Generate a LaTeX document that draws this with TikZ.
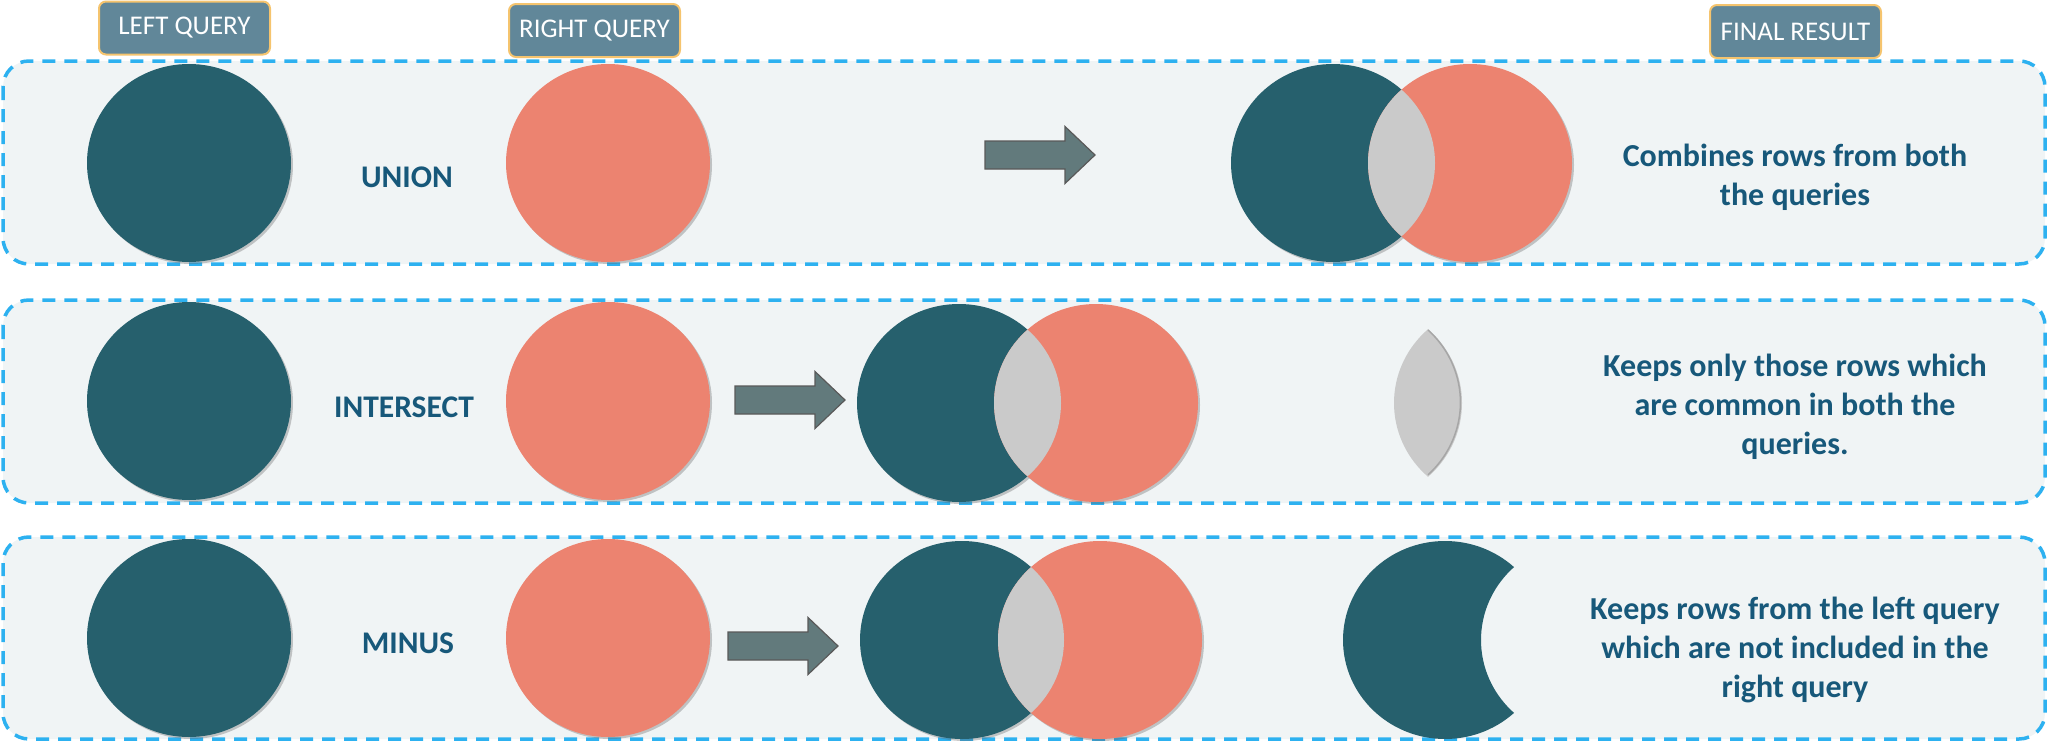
\documentclass[tikz,border=0pt]{standalone}
\usepackage{fontspec}
\setmainfont{Carlito}
\usetikzlibrary{shadows}

\definecolor{setdark}{RGB}{38,96,109}
\definecolor{setsalmon}{RGB}{236,131,112}
\definecolor{setgray}{RGB}{202,202,202}
\definecolor{panelbg}{RGB}{240,244,245}
\definecolor{panelline}{RGB}{45,177,240}
\definecolor{optext}{RGB}{23,88,122}
\definecolor{tagfill}{RGB}{97,135,153}
\definecolor{tagline}{RGB}{245,196,110}
\definecolor{arrowfill}{RGB}{98,122,124}

\tikzset{
  panel/.style={draw=panelline, fill=panelbg, line width=3.5pt, dash pattern=on 13pt off 9pt, rounded corners=26pt},
  tag/.style={fill=tagfill, draw=tagline, line width=2pt, rounded corners=7pt, text=white,
    font=\fontsize{27}{30}\selectfont, minimum width=171pt, minimum height=53pt, inner sep=0pt},
  opname/.style={text=optext, font=\bfseries\fontsize{31.5}{37}\selectfont},
  opnote/.style={text=optext, font=\bfseries\fontsize{32}{39}\selectfont, align=center},
  shade/.style={drop shadow={shadow xshift=2pt, shadow yshift=-2pt, opacity=0.35, fill=black!60}},
  opArrow/.style={fill=arrowfill, draw=black!65, line width=1.2pt},
}

% two overlapping sets, the common part in gray
\newcommand\vennpair[3]{%
  \fill[setdark, shade] (#1,#3) ellipse (102 and 99);
  \fill[setsalmon, shade] (#2,#3) ellipse (102 and 99);
  \begin{scope}
    \clip (#1,#3) ellipse (102 and 99);
    \fill[setgray] (#2,#3) ellipse (102 and 99);
  \end{scope}}

% block arrow: tail at x=#1, middle at y=#2
\newcommand\oparrow[2]{%
  \path[opArrow] (#1,#2-14) -- ++(80,0) -- ++(0,-14.5) -- ++(30,28.5)
    -- ++(-30,28.5) -- ++(0,-14.5) -- ++(-80,0) -- cycle;}

\begin{document}
\begin{tikzpicture}[x=1pt,y=-1pt]
  \useasboundingbox (0,0) rectangle (2048,744);

  \path[panel] (3,61) rectangle (2045,264);
  \path[panel] (3,300) rectangle (2045,503);
  \path[panel] (3,537) rectangle (2045,739);

  \node[tag] (leftq) at (184.5,28) {LEFT QUERY};
  \node[tag] (rightq) at (594.5,30.5) {RIGHT QUERY};
  \node[tag] (finalres) at (1795.5,31.5) {FINAL RESULT};

  % the two queries
  \foreach \y in {163,401,638} {
    \fill[setdark, shade] (189,\y) ellipse (102 and 99);
    \fill[setsalmon, shade] (608,\y) ellipse (102 and 99);
  }

  \node[opname] (union) at (407,177) {UNION};
  \node[opname] (intersect) at (404,407) {INTERSECT};
  \node[opname] (minus) at (408,643) {MINUS};

  % union
  \oparrow{985}{155}
  \vennpair{1333}{1470}{163}

  % intersect
  \oparrow{735}{400}
  \vennpair{959}{1096}{403}
  \begin{scope}
    \clip (1360,403) ellipse (102 and 99);
    \fill[setgray] (1496,403) ellipse (102 and 99);
  \end{scope}
  \draw[black!35, line width=1.5pt] (1428,330) arc[x radius=102, y radius=99, start angle=-47, end angle=47];

  % minus
  \oparrow{728}{646}
  \vennpair{962}{1100}{640}
  \begin{scope}[even odd rule]
    \clip (1330,530) rectangle (1600,750) (1583,640) ellipse (102 and 99);
    \fill[setdark] (1445,640) ellipse (102 and 99);
  \end{scope}

  \node[opnote] (unionnote) at (1795,177) {Combines rows from both\\the queries};
  \node[opnote] (intersectnote) at (1795,407) {Keeps only those rows which\\are common in both the\\queries.};
  \node[opnote] (minusnote) at (1795,650) {Keeps rows from the left query\\which are not included in the\\right query};
\end{tikzpicture}
\end{document}
